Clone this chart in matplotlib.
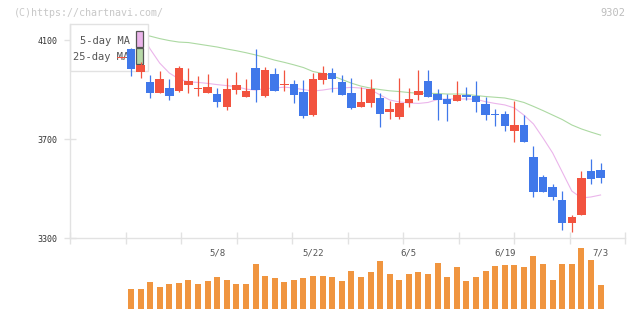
import numpy as np
import matplotlib
matplotlib.use("Agg")
import matplotlib.pyplot as plt
from matplotlib.patches import Rectangle

plt.rcParams['font.family'] = ['DejaVu Sans Mono', 'DejaVu Sans']

# Daily data 2024-04-19 .. 2024-07-03
dates = ["4/19", "4/22", "4/23", "4/24", "4/25", "4/26", "4/30", "5/1", "5/2", "5/7",
         "5/8", "5/9", "5/10", "5/13", "5/14", "5/15", "5/16", "5/17", "5/20", "5/21",
         "5/22", "5/23", "5/24", "5/27", "5/28", "5/29", "5/30", "5/31", "6/3", "6/4",
         "6/5", "6/6", "6/7", "6/10", "6/11", "6/12", "6/13", "6/14", "6/17", "6/18",
         "6/19", "6/20", "6/21", "6/24", "6/25", "6/26", "6/27", "6/28", "7/1", "7/2",
         "7/3"]
opens = [4030, 4065, 3973, 3933, 3888, 3907, 3896, 3918, 3905, 3888,
         3883, 3832, 3899, 3871, 3988, 3875, 3964, 3921, 3923, 3891,
         3798, 3940, 3968, 3932, 3887, 3830, 3847, 3867, 3810, 3790,
         3847, 3879, 3936, 3883, 3863, 3855, 3879, 3875, 3843, 3802,
         3802, 3734, 3758, 3629, 3548, 3508, 3455, 3362, 3394, 3572,
         3576]
highs = [4032, 4068, 4012, 3960, 3976, 3944, 3997, 3989, 3956, 3965,
         3907, 3948, 3972, 3944, 4065, 3993, 3988, 3980, 3940, 3940,
         3968, 3996, 3988, 3960, 3948, 3911, 3944, 3887, 3855, 3948,
         3907, 3980, 3980, 3903, 3883, 3936, 3911, 3936, 3871, 3822,
         3814, 3855, 3798, 3673, 3556, 3520, 3491, 3394, 3572, 3621,
         3604]
lows = [4030, 3956, 3949, 3868, 3888, 3859, 3890, 3888, 3876, 3886,
        3832, 3820, 3884, 3871, 3851, 3871, 3895, 3895, 3847, 3786,
        3794, 3923, 3891, 3879, 3822, 3830, 3830, 3750, 3782, 3782,
        3830, 3859, 3871, 3778, 3774, 3855, 3859, 3810, 3778, 3754,
        3734, 3689, 3689, 3467, 3487, 3455, 3334, 3326, 3394, 3520,
        3524]
closes = [4032, 3984, 4000, 3888, 3944, 3876, 3988, 3937, 3908, 3911,
          3852, 3903, 3919, 3895, 3899, 3980, 3895, 3924, 3879, 3794,
          3944, 3968, 3944, 3879, 3826, 3851, 3903, 3802, 3822, 3847,
          3863, 3895, 3871, 3859, 3843, 3879, 3871, 3851, 3798, 3798,
          3754, 3758, 3689, 3487, 3487, 3467, 3362, 3386, 3544, 3540,
          3544]
volume = [0, 100, 100, 135, 110, 125, 130, 145, 125, 140,
          160, 145, 125, 125, 225, 165, 155, 135, 145, 155,
          165, 165, 160, 140, 190, 160, 185, 240, 175, 145,
          175, 185, 175, 230, 160, 210, 140, 160, 190, 215,
          220, 220, 210, 265, 225, 145, 225, 225, 305, 245,
          120]
ma5 = [4190, 4162, 4129, 4065, 4008, 3968, 3944, 3932, 3930, 3926,
       3921, 3917, 3913, 3903, 3899, 3905, 3907, 3911, 3907, 3901,
       3895, 3899, 3905, 3907, 3910, 3907, 3901, 3879, 3859, 3851,
       3847, 3845, 3849, 3861, 3863, 3863, 3863, 3862, 3852, 3845,
       3839, 3827, 3798, 3762, 3705, 3645, 3568, 3491, 3463, 3467,
       3475]
ma25 = [4136, 4130, 4123, 4117, 4107, 4099, 4093, 4091, 4085, 4079,
        4073, 4065, 4058, 4050, 4041, 4031, 4020, 4011, 4001, 3990,
        3974, 3966, 3957, 3942, 3927, 3915, 3907, 3901, 3896, 3893,
        3889, 3886, 3886, 3885, 3883, 3883, 3882, 3877, 3873, 3870,
        3867, 3859, 3849, 3833, 3816, 3798, 3780, 3758, 3742, 3729,
        3717]
date_labels = ["5/8", "5/22", "6/5", "6/19", "7/3"]
price_ticks = [3300, 3700, 4100]

UP = "#f2533f"
DOWN = "#4078ea"
VOL = "#f0953f"
GRID = "#e2e2e2"

W, H = 640, 311
fig = plt.figure(figsize=(W / 100, H / 100), dpi=100)
ax = fig.add_axes([70 / W, 1 - 238.3 / H, 555 / W, 214.3 / H])
vax = fig.add_axes([70 / W, 2 / H, 555 / W, 64 / H])

x = np.arange(len(dates))
xlim = (-5.36, 52.55)

# moving averages (under the legend box)
ax.plot(x, ma25, color="#acd9a2", lw=0.8, zorder=1)
ax.plot(x, ma5, color="#ebb5eb", lw=0.8, zorder=1)

# candles
o = np.array(opens)
c = np.array(closes)
colors = [UP if cc >= oo else DOWN for oo, cc in zip(o, c)]
body_lo = np.minimum(o, c)
body_h = np.maximum(np.abs(c - o), 4)
ax.vlines(x, lows, highs, colors=colors, lw=0.9, zorder=3)
ax.bar(x, body_h, bottom=body_lo, width=0.88, color=colors, zorder=3)

ax.set_xlim(xlim)
ax.set_ylim(3300, 4166)
for s in ["top", "right"]:
    ax.spines[s].set_visible(False)
for s in ["left", "bottom"]:
    ax.spines[s].set_color(GRID)
    ax.spines[s].set_linewidth(1)

ax.set_yticks(price_ticks)
ax.set_yticklabels([str(p) for p in price_ticks])
ax.tick_params(axis="y", direction="inout", length=8, width=1, color=GRID,
               labelsize=6, labelcolor="#333333", pad=5)
ax.set_xticks(np.linspace(xlim[0], xlim[1], 11))
ax.set_xticklabels([])
ax.tick_params(axis="x", which="major", direction="inout", length=8, width=1,
               color=GRID)
ax.set_xticks([dates.index(d) for d in date_labels], minor=True)
ax.set_xticklabels(date_labels, minor=True)
ax.tick_params(axis="x", which="minor", length=0, labelsize=6.5,
               labelcolor="#555555", pad=7)


# legend, drawn by hand so it sits between MA lines and candles
def px(xp, yp):
    return ((xp - 70) / 555, (238.3 - yp) / 214.3)


ax.add_patch(Rectangle(px(70, 71), 78 / 555, 47 / 214.3, transform=ax.transAxes,
                       facecolor="white", edgecolor=GRID, lw=1, zorder=2,
                       clip_on=False))
ax.text(*px(129.5, 40.5), "5-day MA", transform=ax.transAxes, ha="right",
        va="center", fontsize=7.5, color="#555555", zorder=2)
ax.text(*px(129.5, 57), "25-day MA", transform=ax.transAxes, ha="right",
        va="center", fontsize=7.5, color="#555555", zorder=2)
ax.add_patch(Rectangle(px(136, 47), 7 / 555, 16 / 214.3, transform=ax.transAxes,
                       facecolor="#ebb5eb", edgecolor="#555555", lw=0.9,
                       zorder=2, clip_on=False))
ax.add_patch(Rectangle(px(136, 64), 7 / 555, 16 / 214.3, transform=ax.transAxes,
                       facecolor="#b7d9a8", edgecolor="#555555", lw=0.9,
                       zorder=2, clip_on=False))

# volume
vax.bar(x, volume, width=0.63, color=VOL)
vax.set_xlim(xlim)
vax.set_ylim(0, 320)
vax.axis("off")

fig.text(14 / W, 1 - 12.5 / H, "(C)https://chartnavi.com/", color="#c8c8c8",
         fontsize=7.2, va="center", ha="left")
fig.text(625 / W, 1 - 12.5 / H, "9302", color="#bdbdbd", fontsize=7.5,
         va="center", ha="right")

fig.savefig("out.png", dpi=100)
